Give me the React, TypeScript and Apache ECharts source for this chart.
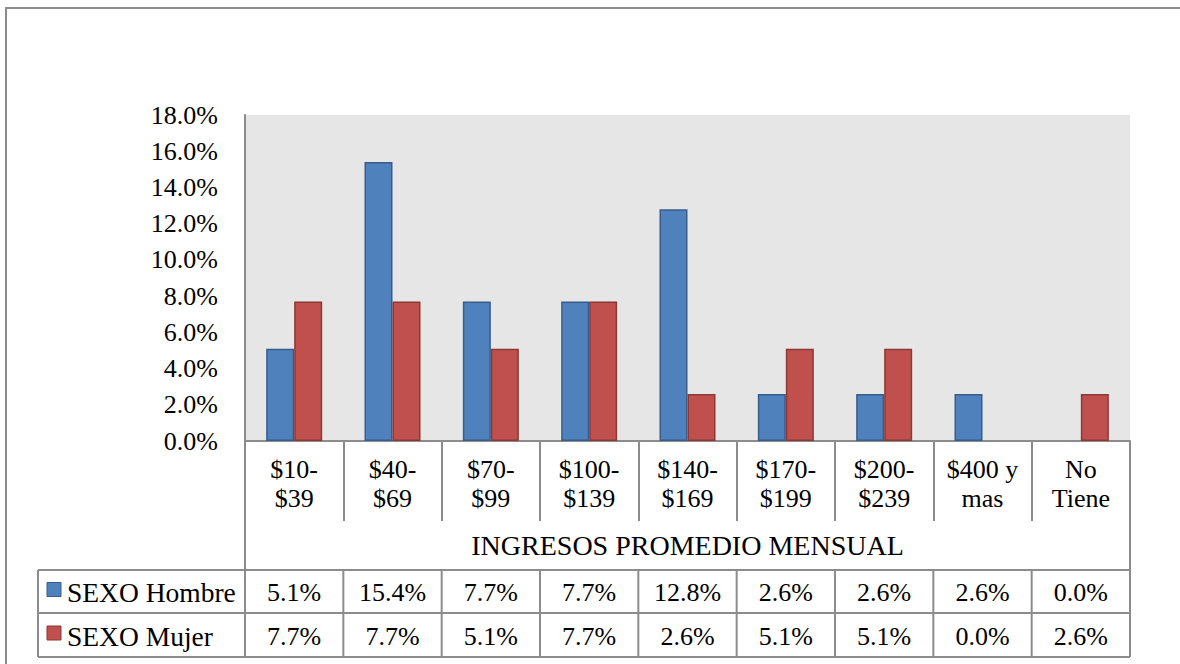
import React, { useEffect, useRef } from "react";
import * as echarts from "echarts";

const categories = [
  "$10-\n$39",
  "$40-\n$69",
  "$70-\n$99",
  "$100-\n$139",
  "$140-\n$169",
  "$170-\n$199",
  "$200-\n$239",
  "$400 y\nmas",
  "No\nTiene",
];
const hombre = [5.1, 15.4, 7.7, 7.7, 12.8, 2.6, 2.6, 2.6, 0.0];
const mujer = [7.7, 7.7, 5.1, 7.7, 2.6, 5.1, 5.1, 0.0, 2.6];
const seriesNames = ["SEXO Hombre", "SEXO Mujer"];
const axisTitle = "INGRESOS PROMEDIO MENSUAL";
const yTicks = { min: 0, max: 18, interval: 2 };

const FONT = "Liberation Serif";
const GRID_L = 245;
const GRID_R = 1130;
const GRID_T = 115;
const GRID_B = 441;
const CAT_ROW_B = 521;
const TITLE_ROW_B = 570;
const ROW1_B = 613;
const ROW2_B = 657;
const LEG_L = 38;
const LINE = "#8c8c8c";
const BLUE = "#4f81bd";
const RED = "#c0504d";
const BLUE_B = "#385d8a";
const RED_B = "#8c3836";

export default function App() {
  const ref = useRef<HTMLDivElement>(null);
  useEffect(() => {
    if (!ref.current) return;
    const chart = echarts.init(ref.current, null, { renderer: "svg" });
    const n = categories.length;
    const colW = (GRID_R - GRID_L) / n;
    const graphics: any[] = [];
    const txt = (x: number, y: number, text: string, align: string, size: number) => ({
      type: "text",
      x,
      y,
      z: 20,
      style: {
        text,
        fontFamily: FONT,
        fontSize: size,
        fill: "#000",
        align,
        verticalAlign: "middle",
      },
    });
    const ln = (x1: number, y1: number, x2: number, y2: number) =>
      graphics.push({
        type: "line",
        shape: { x1, y1, x2, y2 },
        style: { stroke: LINE, lineWidth: 2 },
        z: 10,
      });
    // outer border
    graphics.push({
      type: "rect",
      shape: { x: 6, y: 8, width: 1300, height: 800 },
      style: { fill: "none", stroke: LINE, lineWidth: 2 },
      z: 1,
    });
    // table lines
    ln(LEG_L, TITLE_ROW_B, GRID_R, TITLE_ROW_B);
    ln(LEG_L, ROW1_B, GRID_R, ROW1_B);
    ln(LEG_L, ROW2_B, GRID_R, ROW2_B);
    ln(LEG_L, TITLE_ROW_B, LEG_L, ROW2_B);
    ln(GRID_L, GRID_B, GRID_L, ROW2_B);
    ln(GRID_R, GRID_B, GRID_R, ROW2_B);
    for (let i = 1; i < n; i++) {
      const x = GRID_L + colW * i;
      ln(x, TITLE_ROW_B, x, ROW2_B);
    }
    // title
    graphics.push(
      txt((GRID_L + GRID_R) / 2, (CAT_ROW_B + TITLE_ROW_B) / 2, axisTitle, "center", 28)
    );
    // data cells
    const rows = [hombre, mujer];
    const rowTop = [TITLE_ROW_B, ROW1_B];
    const rowBot = [ROW1_B, ROW2_B];
    const colors = [BLUE, RED];
    const borders = [BLUE_B, RED_B];
    rows.forEach((vals, r) => {
      const cy = (rowTop[r] + rowBot[r]) / 2 + 1;
      vals.forEach((v, i) => {
        graphics.push(txt(GRID_L + colW * (i + 0.5), cy, v.toFixed(1) + "%", "center", 26));
      });
      graphics.push({
        type: "rect",
        shape: { x: 47, y: cy - 10, width: 14, height: 14 },
        style: { fill: colors[r], stroke: borders[r], lineWidth: 1 },
        z: 20,
      });
      graphics.push(txt(67, cy, seriesNames[r], "left", 27.5));
    });

    const toData = (vals: number[]) =>
      vals.map((v) => (v === 0 ? { value: v, itemStyle: { borderWidth: 0 } } : v));

    chart.setOption({
      animation: false,
      backgroundColor: "#fff",
      grid: {
        left: GRID_L,
        top: GRID_T,
        width: GRID_R - GRID_L,
        height: GRID_B - GRID_T,
        show: true,
        backgroundColor: "#e6e6e6",
        borderWidth: 0,
      },
      xAxis: {
        type: "category",
        data: categories,
        axisLine: { show: true, lineStyle: { color: LINE, width: 2 } },
        axisTick: {
          show: true,
          length: CAT_ROW_B - GRID_B,
          lineStyle: { color: LINE, width: 2 },
        },
        axisLabel: {
          color: "#000",
          fontFamily: FONT,
          fontSize: 26,
          lineHeight: 29,
          margin: 14,
          interval: 0,
        },
      },
      yAxis: {
        type: "value",
        min: yTicks.min,
        max: yTicks.max,
        interval: yTicks.interval,
        axisLine: { show: true, lineStyle: { color: LINE, width: 2 } },
        axisTick: { show: false },
        splitLine: { show: false },
        axisLabel: {
          color: "#000",
          fontFamily: FONT,
          fontSize: 26,
          margin: 27,
          formatter: (v: number) => v.toFixed(1) + "%",
        },
      },
      series: [
        {
          name: seriesNames[0],
          type: "bar",
          data: toData(hombre),
          barWidth: 28,
          barGap: "0%",
          itemStyle: { color: BLUE, borderColor: BLUE_B, borderWidth: 1.5 },
        },
        {
          name: seriesNames[1],
          type: "bar",
          data: toData(mujer),
          barWidth: 28,
          barGap: "0%",
          itemStyle: { color: RED, borderColor: RED_B, borderWidth: 1.5 },
        },
      ],
      graphic: graphics,
    });
    return () => chart.dispose();
  }, []);
  return (
    <div
      ref={ref}
      style={{ position: "absolute", left: 0, top: 0, width: 1180, height: 664 }}
    />
  );
}
